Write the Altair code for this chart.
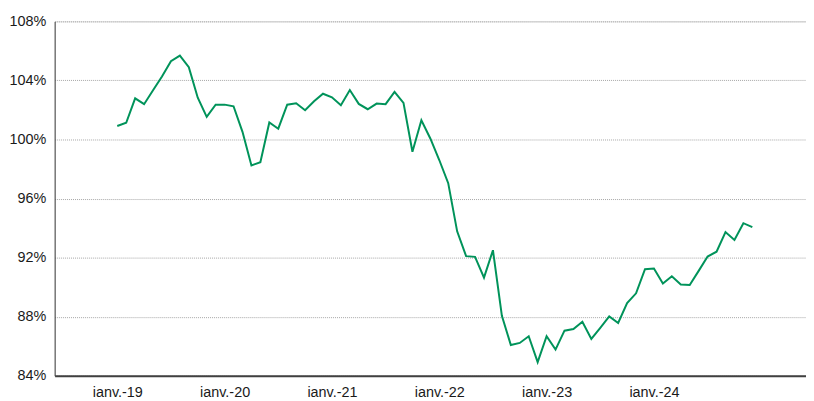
import altair as alt
import pandas as pd

# monthly index: 0 = Jan 2019 ... 71 = Dec 2024
values = [
    100.91, 101.13, 102.79, 102.39, 103.33, 104.27, 105.30, 105.68, 104.90, 102.83, 101.53, 102.36,
    102.36, 102.25, 100.52, 98.24, 98.46, 101.15, 100.73, 102.36, 102.45, 101.98, 102.59, 103.10,
    102.86, 102.32, 103.35, 102.41, 102.05, 102.43, 102.39, 103.22, 102.48, 99.17, 101.30, 100.07,
    98.61, 97.04, 93.78, 92.10, 92.05, 90.64, 92.50, 88.06, 86.08, 86.22, 86.67, 84.92,
    86.67, 85.77, 87.05, 87.16, 87.65, 86.49, 87.24, 88.02, 87.57, 88.92, 89.58, 91.21,
    91.26, 90.25, 90.74, 90.18, 90.14, 91.10, 92.07, 92.40, 93.73, 93.19, 94.33, 94.07,
]
months = list(range(len(values)))

tick_positions = [0, 12, 24, 36, 48, 60]
tick_labels = ["ianv.-19", "ianv.-20", "ianv.-21", "ianv.-22", "ianv.-23", "ianv.-24"]
y_ticks = [84, 88, 92, 96, 100, 104, 108]

df = pd.DataFrame({"m": months, "v": values})

label_map = "{" + ",".join(f"'{p}':'{l}'" for p, l in zip(tick_positions, tick_labels)) + "}"
FONT = "Liberation Sans"

chart = alt.Chart(df).mark_line(color="#00935A", strokeWidth=2).encode(
    x=alt.X("m:Q", scale=alt.Scale(domain=[-7, 77], nice=False, zero=False),
            axis=alt.Axis(values=tick_positions, labelExpr=f"{label_map}[datum.value]",
                          title=None, grid=False, ticks=False, labelPadding=10,
                          domainColor="#404040", domainWidth=2,
                          labelFont=FONT, labelFontSize=14.5, labelColor="#1a1a1a")),
    y=alt.Y("v:Q", scale=alt.Scale(domain=[84, 108], nice=False, zero=False),
            axis=alt.Axis(values=y_ticks, labelExpr="datum.value + '%'", title=None,
                          ticks=False, labelPadding=9, grid=True, gridColor="#a6a6a6",
                          gridDash=[1, 1], gridWidth=1, domainColor="#404040", domainWidth=1,
                          labelFont=FONT, labelFontSize=14.5, labelColor="#1a1a1a")),
).properties(
    width=757, height=357,
    autosize=alt.AutoSizeParams(type="none"),
    padding={"left": 47, "top": 12, "right": 0, "bottom": 24},
).configure_view(stroke=None).configure(background="white")

chart.save("out.html", embed_options={"renderer": "svg", "actions": False})
